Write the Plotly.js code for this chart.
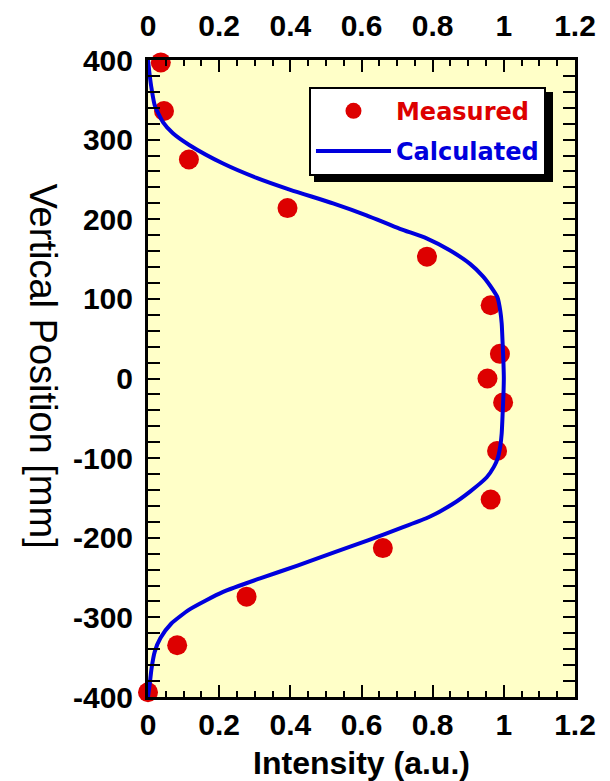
<!DOCTYPE html>
<html>
<head>
<meta charset="utf-8">
<script src="https://cdn.plot.ly/plotly-3.0.1.min.js"></script>
<style>html,body{margin:0;padding:0;background:#fff;}#chart{width:610px;height:781px;}</style>
</head>
<body>
<div id="chart"></div>
<script>
// Measured data (intensity, vertical position)
const measuredIntensity = [0.036, 0.045, 0.115, 0.392, 0.784, 0.963, 0.989, 0.954, 0.998, 0.981, 0.963, 0.660, 0.277, 0.082, 0.0];
const measuredPosition  = [397, 336, 275, 214, 153, 92, 31, 0, -30, -91, -152, -213, -274, -335, -394];

// Calculated curve
const calcPosition  = [400, 380, 364, 343, 322, 308, 293, 270, 252, 237, 220, 205, 188, 176, 161, 144, 128, 111, 102, 85, 69, 40, 19, 0, -19, -40, -69, -85, -100, -111, -124, -142, -158, -174, -187, -203, -218, -235, -251, -268, -290, -308, -326, -343, -364, -383, -400];
const calcIntensity = [0.0, 0.005, 0.010, 0.019, 0.042, 0.070, 0.117, 0.211, 0.305, 0.400, 0.520, 0.614, 0.708, 0.783, 0.848, 0.905, 0.942, 0.970, 0.982, 0.990, 0.994, 0.997, 0.999, 1.0, 0.999, 0.997, 0.994, 0.990, 0.983, 0.972, 0.952, 0.905, 0.855, 0.790, 0.715, 0.620, 0.525, 0.420, 0.315, 0.211, 0.117, 0.065, 0.035, 0.019, 0.010, 0.005, 0.0];

// Tick labels
const xTickVals = [0, 0.2, 0.4, 0.6, 0.8, 1, 1.2];
const xTickText = ["0", "0.2", "0.4", "0.6", "0.8", "1", "1.2"];
const yTickVals = [-400, -300, -200, -100, 0, 100, 200, 300, 400];
const yTickText = ["-400", "-300", "-200", "-100", "0", "100", "200", "300", "400"];

const seriesNames = ["Measured", "Calculated"];
const xTitle = "Intensity (a.u.)";
const yTitle = "Vertical Position [mm]";

const RED = "#dd0000";
const BLUE = "#0000dd";
const labelFont = {family: "Liberation Sans, Arial, sans-serif", size: 30, color: "#000", weight: "bold"};

const traces = [
  {
    x: measuredIntensity, y: measuredPosition, type: "scatter", mode: "markers",
    name: '<span style="color:' + RED + '">' + seriesNames[0] + '</span>',
    legendgroup: "a",
    marker: {color: RED, size: 20},
    cliponaxis: false, hoverinfo: "skip"
  },
  {
    x: calcIntensity, y: calcPosition, type: "scatter", mode: "lines",
    name: '<span style="color:' + BLUE + '">' + seriesNames[1] + '</span>',
    legendgroup: "b",
    line: {color: BLUE, width: 4, shape: "spline", smoothing: 0.6},
    cliponaxis: false, hoverinfo: "skip"
  },
  {
    x: measuredIntensity, y: measuredPosition, xaxis: "x2", type: "scatter", mode: "markers",
    marker: {opacity: 0}, showlegend: false, hoverinfo: "skip"
  }
];

const axisCommon = {
  showline: true, linecolor: "#000", linewidth: 3,
  ticks: "inside", tickcolor: "#000", tickwidth: 2,
  showgrid: false, zeroline: false, tickfont: labelFont
};

const layout = {
  width: 610, height: 781,
  margin: {l: 148, r: 35, t: 60, b: 84, pad: 0},
  paper_bgcolor: "#ffffff",
  plot_bgcolor: "#ffffc8",
  showlegend: true,
  legend: {
    x: 0.377, y: 0.958, xanchor: "left", yanchor: "top",
    bgcolor: "#ffffff", bordercolor: "#000", borderwidth: 2,
    font: {family: "DejaVu Sans, sans-serif", size: 24, weight: "bold"},
    itemwidth: 75, tracegroupgap: 6, traceorder: "grouped"
  },
  xaxis: Object.assign({}, axisCommon, {
    range: [0, 1.2], tickmode: "array", tickvals: xTickVals, ticktext: xTickText,
    ticklen: 12, mirror: "allticks",
    minor: {dtick: 0.05, ticks: "inside", ticklen: 6, tickwidth: 2, tickcolor: "#000", showgrid: false},
    title: {text: xTitle, font: {family: "Liberation Sans, Arial, sans-serif", size: 32, color: "#000", weight: "bold"}, standoff: 12},
    ticklabelstandoff: -1
  }),
  xaxis2: {
    overlaying: "x", side: "top", range: [0, 1.2], tickmode: "array", tickvals: xTickVals, ticktext: xTickText,
    showline: false, ticks: "outside", ticklen: 11, tickcolor: "rgba(0,0,0,0)",
    showgrid: false, zeroline: false, tickfont: labelFont
  },
  yaxis: Object.assign({}, axisCommon, {
    range: [-400, 400], tickmode: "array", tickvals: yTickVals, ticktext: yTickText,
    ticklen: 12, mirror: "allticks",
    minor: {dtick: 20, ticks: "inside", ticklen: 7, tickwidth: 2, tickcolor: "#000", showgrid: false},
    ticklabelstandoff: 6
  }),
  shapes: [
    {
      type: "rect", xref: "paper", yref: "paper", layer: "above",
      x0: (314 - 148) / 427, x1: (553 - 148) / 427,
      y0: (697 - 182) / 637, y1: (697 - 92) / 637,
      fillcolor: "#000", line: {width: 0}
    }
  ],
  annotations: [
    {
      text: yTitle, xref: "paper", yref: "paper", x: -0.245, y: 0.52,
      xanchor: "center", yanchor: "middle", textangle: 90, showarrow: false,
      font: {family: "Liberation Sans, Arial, sans-serif", size: 38, color: "#000"}
    }
  ]
};

Plotly.newPlot("chart", traces, layout, {staticPlot: true, displayModeBar: false});
</script>
</body>
</html>
